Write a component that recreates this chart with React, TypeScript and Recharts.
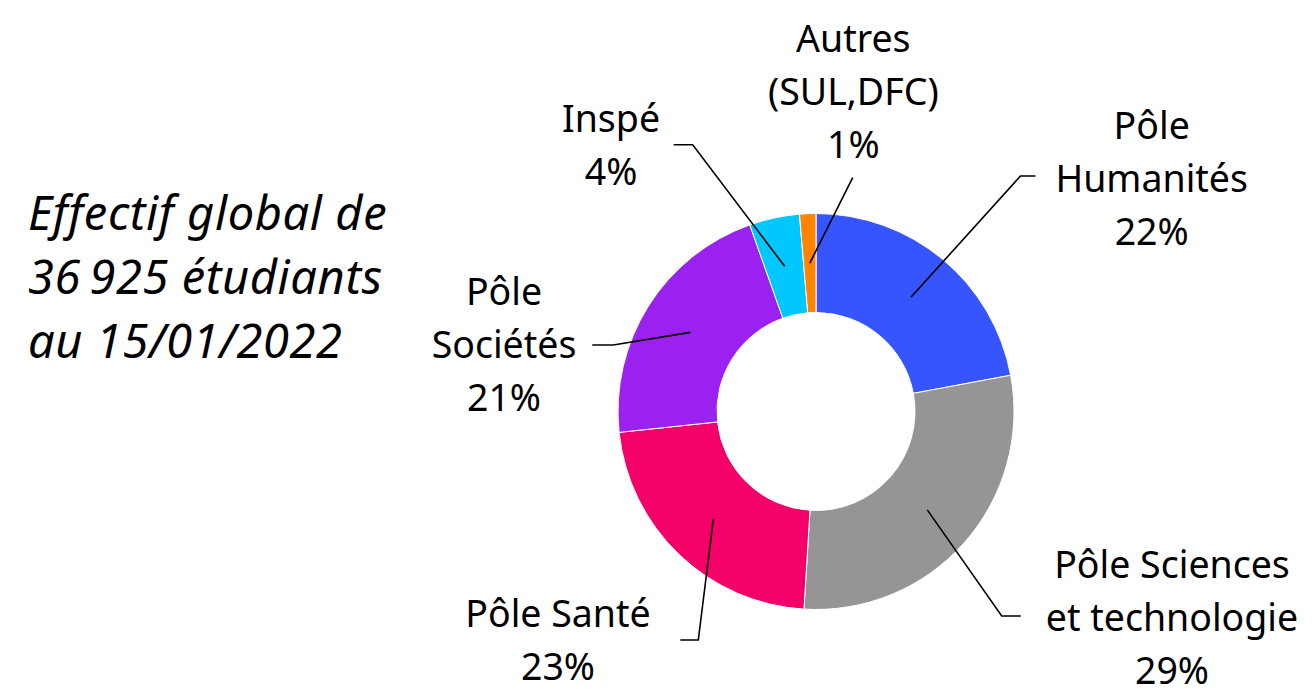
import React from "react";
import { PieChart, Pie, Cell } from "recharts";

// ---- data ----
const categories = [
  "Pôle Humanités",
  "Pôle Sciences et technologie",
  "Pôle Santé",
  "Pôle Sociétés",
  "Inspé",
  "Autres (SUL,DFC)",
];
const students = [8149, 10671, 8253, 7847, 1514, 491];
const percentLabels = ["22%", "29%", "23%", "21%", "4%", "1%"];
const labelLines = [
  ["Pôle", "Humanités"],
  ["Pôle Sciences", "et technologie"],
  ["Pôle Santé"],
  ["Pôle", "Sociétés"],
  ["Inspé"],
  ["Autres", "(SUL,DFC)"],
];
const colors = ["#3755FF", "#949594", "#F30068", "#9B21F0", "#00C8FF", "#FF8500"];
const titleLines = ["Effectif global de", "36\u202F925 étudiants", "au 15/01/2022"];

// ---- label layout (offsets from pie centre) ----
const labelLayout = [
  { ex: 204.5, ey: -235.5, hx: 15, tx: 335.7, ty: -273 },
  { ex: 185.7, ey: 204.5, hx: 19, tx: 356, ty: 166.2 },
  { ex: -117.7, ey: 228.5, hx: -18, tx: -258, ty: 215.2 },
  { ex: -202.7, ey: -66.5, hx: -21, tx: -312, ty: -106.5 },
  { ex: -123.3, ey: -266.8, hx: -19, tx: -205, ty: -279.8 },
  { ex: 36.7, ey: -233.8, hx: 0, tx: 37.3, ty: -359.8 },
];

const data = categories.map((name, i) => ({ name, value: students[i] }));

const FONT = "'Noto Sans', sans-serif";
const LINE_H = 53;
const RAD = Math.PI / 180;

const renderLabel = (props: any) => {
  const { cx, cy, midAngle, innerRadius, outerRadius, index } = props;
  const lay = labelLayout[index];
  const r = (innerRadius + outerRadius) / 2;
  const sx = cx + r * Math.cos(-midAngle * RAD);
  const sy = cy + r * Math.sin(-midAngle * RAD);
  const ex = cx + lay.ex;
  const ey = cy + lay.ey;
  const lines = [...labelLines[index], percentLabels[index]];
  const pts = `${sx},${sy} ${ex},${ey} ${ex + lay.hx},${ey}`;
  return (
    <g key={`lbl-${index}`}>
      <polyline points={pts} fill="none" stroke="#000" strokeWidth={1.6} />
      <text
        x={cx + lay.tx}
        y={cy + lay.ty}
        textAnchor="middle"
        fontFamily={FONT}
        fontSize={37.5}
        fill="#000"
      >
        {lines.map((l, k) => (
          <tspan key={k} x={cx + lay.tx} y={cy + lay.ty + k * LINE_H}>
            {l}
          </tspan>
        ))}
      </text>
    </g>
  );
};

export default function App() {
  return (
    <div style={{ position: "absolute", left: 0, top: 0, width: 1312, height: 689, background: "#fff" }}>
      <svg width={1312} height={689} style={{ position: "absolute", left: 0, top: 0 }}>
        {titleLines.map((t, i) => (
          <text
            key={i}
            x={28}
            y={230 + i * 64}
            fontFamily={FONT}
            fontStyle="italic"
            fontSize={47}
            letterSpacing={0.6}
            fill="#000"
          >
            {t}
          </text>
        ))}
      </svg>
      <div style={{ position: "absolute", left: 0, top: 0 }}>
        <PieChart width={1312} height={689} margin={{ top: 0, right: 0, bottom: 0, left: 0 }}>
          <Pie
            data={data}
            dataKey="value"
            nameKey="name"
            cx={816}
            cy={411.5}
            innerRadius={99}
            outerRadius={198}
            startAngle={90}
            endAngle={-270}
            stroke="#fff"
            strokeWidth={1}
            label={renderLabel}
            labelLine={false}
            isAnimationActive={false}
          >
            {data.map((d, i) => (
              <Cell key={d.name} fill={colors[i]} />
            ))}
          </Pie>
        </PieChart>
      </div>
    </div>
  );
}
